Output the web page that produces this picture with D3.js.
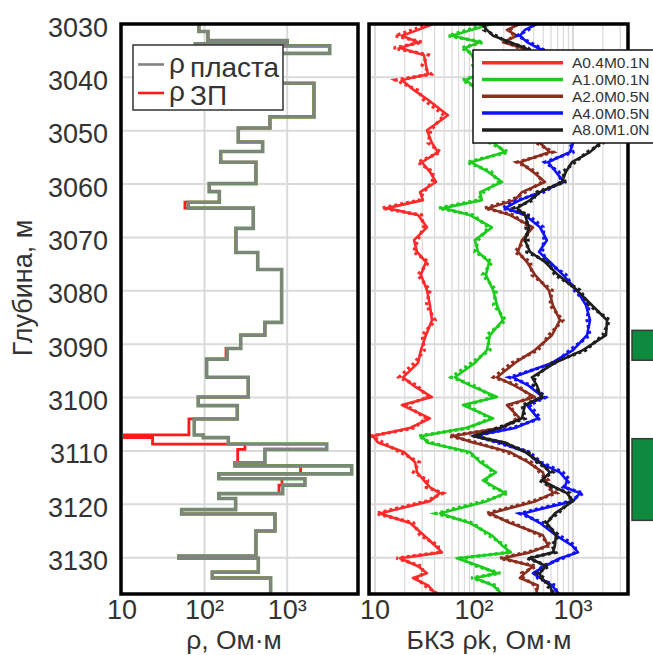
<!DOCTYPE html>
<html lang="ru">
<head>
<meta charset="utf-8">
<title>Разрез БКЗ</title>
<script src="https://d3js.org/d3.v7.min.js"></script>
<style>
  body { margin: 0; background: #fff; }
  svg { font-family: "Liberation Sans", Arial, sans-serif; }
</style>
</head>
<body>
<script>
// ---- left track: layer model (tops in m, resistivity in Ohm*m)
const layerTop = [3030.0, 3031.4, 3033.1, 3033.7, 3034.1, 3035.5, 3041.1, 3047.4, 3049.5, 3052.1,
  3053.9, 3055.9, 3059.9, 3061.4, 3063.4, 3064.5, 3068.3, 3072.8, 3076.0, 3085.9,
  3088.3, 3090.8, 3092.8, 3096.2, 3099.9, 3101.5, 3104.0, 3107.0, 3107.5, 3108.7,
  3109.7, 3112.2, 3112.8, 3114.3, 3115.2, 3116.4, 3118.0, 3118.9, 3121.0, 3121.8,
  3125.0, 3129.7, 3130.1, 3132.7, 3133.8, 3137.0];
const rhoPlast = [85.5, 110, 1002, 77.2, 3270, 712, 2110, 619, 256, 505,
  157, 419, 114, 151, 63.5, 389, 240, 440, 857, 538,
  274, 188, 106, 338, 83.9, 249, 75.0, 96.4, 194, 3010,
  538, 233, 6040, 149, 1641, 883, 149, 238, 52.8, 712,
  419, 49.0, 447, 124, 631, 292];
const rhoZP = [85.5, 110, 1002, 77.2, 3270, 712, 2110, 619, 256, 505,
  157, 419, 114, 151, 57.9, 389, 240, 440, 857, 538,
  274, 182, 106, 338, 83.9, 249, 64.7, 10.7, 23.5, 308,
  252, 233, 1456, 149, 865, 796, 149, 238, 52.8, 712,
  419, 49.0, 447, 124, 631, 292];

// ---- right track: apparent resistivity curves (solid = model, dotted = measured)
const depthK = [3030.0, 3031.1, 3032.2, 3033.4, 3034.5, 3035.8, 3037.7, 3039.4, 3040.5, 3042.4,
  3044.2, 3047.1, 3049.9, 3052.3, 3054.0, 3055.9, 3057.7, 3059.6, 3061.5, 3063.0,
  3064.5, 3065.8, 3068.1, 3070.5, 3072.7, 3074.6, 3077.0, 3079.9, 3082.7, 3085.5,
  3088.3, 3091.1, 3093.5, 3096.2, 3097.7, 3099.9, 3101.4, 3103.9, 3105.7, 3107.2,
  3108.4, 3110.2, 3112.1, 3114.0, 3115.5, 3116.8, 3117.9, 3119.4, 3121.7, 3123.5,
  3125.8, 3127.7, 3129.0, 3130.1, 3131.6, 3132.9, 3133.8, 3135.2, 3137.0];

const kA04 = [38.5, 27.2, 18.7, 27.2, 17.9, 31.2, 32.7, 34.3, 18.7, 24.8,
  34.3, 54.5, 33.5, 37.6, 43.2, 29.8, 35.9, 41.3, 28.5, 30.5,
  13.2, 27.2, 33.5, 24.8, 26.6, 32.7, 29.1, 33.5, 35.9, 37.6,
  32.7, 29.1, 27.2, 19.2, 24.2, 37.6, 18.7, 35.9, 22.6, 9.5,
  10.7, 19.6, 25.4, 26.6, 31.2, 35.9, 45.3, 35.9, 11.2, 22.6,
  31.2, 40.3, 47.5, 17.9, 27.2, 33.5, 24.2, 34.3, 42.2];
const kA04m = [35, 24, 16, 30, 15.5, 34.5, 30, 37, 16.2, 27,
  31, 50, 36.5, 34.5, 46, 27, 38.5, 38, 31, 28,
  11.8, 29.5, 31, 27, 24.5, 35, 27, 36, 33, 40.5,
  30, 31.5, 25, 17.5, 26.5, 34.5, 20.5, 33, 24.5, 9.2,
  12, 17.8, 28, 24.5, 34, 33, 48.5, 33, 10.3, 24.5,
  28.5, 43.5, 44, 16.5, 29.5, 31, 26.5, 31.5, 45];

const kA10 = [152, 95.2, 59.9, 115, 80.9, 95.2, 105, 110, 82.8, 110,
  152, 248, 152, 159, 206, 93.0, 139, 192, 115, 120,
  48.6, 90.9, 152, 102, 110, 142, 132, 156, 171, 196,
  145, 135, 102, 64.2, 90.9, 171, 77.3, 156, 82.8, 29.8,
  33.5, 90.9, 115, 167, 123, 163, 206, 135, 45.3, 90.9,
  152, 192, 236, 67.2, 115, 171, 102, 156, 196];
const kA10m = [140, 86, 55, 124, 74, 103, 97, 119, 76, 119,
  140, 230, 165, 146, 222, 85, 150, 177, 125, 110,
  44, 98, 140, 110, 102, 153, 122, 168, 158, 210,
  134, 145, 94, 59, 98, 158, 84, 145, 89, 27.5,
  36, 84, 124, 154, 133, 150, 222, 125, 41.5, 98,
  140, 207, 218, 73, 106, 184, 94, 168, 182];

const kA20 = [291, 215, 272, 196, 305, 351, 368, 291, 206, 291,
  413, 657, 413, 464, 585, 291, 394, 521, 305, 259,
  139, 231, 394, 305, 278, 343, 413, 571, 627, 738,
  613, 413, 259, 171, 254, 413, 215, 291, 183, 61.3,
  97.5, 231, 351, 497, 521, 585, 627, 422, 145, 231,
  497, 558, 368, 196, 394, 327, 291, 443, 422];
const kA20m = [268, 232, 252, 212, 285, 380, 340, 315, 190, 315,
  382, 610, 446, 430, 630, 272, 425, 490, 330, 240,
  128, 250, 365, 330, 258, 372, 385, 615, 585, 790,
  570, 445, 240, 158, 275, 385, 232, 270, 198, 56,
  106, 212, 380, 460, 565, 545, 680, 392, 134, 250,
  460, 600, 340, 182, 425, 303, 315, 412, 455];

const kA40 = [432, 327, 291, 343, 443, 657, 738, 585, 464, 657,
  930, 1485, 1048, 1000, 930, 558, 672, 809, 464, 291,
  206, 327, 464, 545, 453, 585, 791, 1097, 1353, 1485,
  1385, 1000, 613, 248, 351, 497, 343, 443, 259, 97.5,
  183, 335, 443, 738, 868, 828, 1177, 1000, 312, 464,
  672, 975, 1123, 738, 521, 394, 464, 613, 738];
const kA40m = [405, 352, 275, 365, 470, 615, 790, 545, 495, 615,
  990, 1390, 1120, 940, 1000, 520, 720, 760, 500, 275,
  192, 350, 500, 510, 490, 545, 850, 1030, 1450, 1390,
  1480, 930, 660, 228, 380, 530, 365, 470, 240, 104,
  170, 360, 475, 790, 930, 800, 1270, 930, 290, 500,
  720, 1050, 1060, 790, 490, 425, 440, 660, 690];

const kA80 = [120, 135, 156, 231, 327, 443, 558, 672, 738, 828,
  975, 1556, 2056, 1874, 1485, 975, 848, 773, 464, 368,
  272, 327, 359, 327, 368, 521, 704, 1097, 1556, 2205,
  2154, 1262, 657, 385, 432, 475, 327, 305, 183, 97.5,
  206, 327, 464, 585, 486, 657, 868, 1000, 657, 545,
  672, 657, 627, 368, 533, 464, 475, 585, 627];
const kA80m = [130, 126, 168, 215, 352, 412, 600, 625, 800, 770,
  1050, 1450, 2200, 2010, 1390, 1050, 790, 830, 432, 395,
  252, 352, 335, 352, 342, 560, 655, 1180, 1450, 2350,
  2000, 1350, 610, 412, 402, 510, 305, 330, 170, 104,
  192, 352, 432, 625, 460, 610, 930, 940, 705, 510,
  720, 612, 670, 345, 570, 432, 510, 545, 670];

const probeNames = ["A0.4M0.1N", "A1.0M0.1N", "A2.0M0.5N", "A4.0M0.5N", "A8.0M1.0N"];
const probeColors = ["#ff2a2a", "#1ccc1c", "#8b2e1f", "#1010ff", "#1e1e1e"];
const probeModel = [kA04, kA10, kA20, kA40, kA80];
const probeMeas = [kA04m, kA10m, kA20m, kA40m, kA80m];

// perforated intervals (top, bottom)
const intervalTop = [3087.4, 3107.7];
const intervalBot = [3093.0, 3123.0];

const depthTicks = [3030, 3040, 3050, 3060, 3070, 3080, 3090, 3100, 3110, 3120, 3130];
const rhoTicks = [10, 100, 1000];
const rhoTickText = ["10", "10²", "10³"];

// ---- layout
const W = 653, H = 655;
const yTop = 24, yBot = 594;
const L = {x0: 121, x1: 358}, R = {x0: 369, x1: 628};

const svg = d3.select("body").append("svg")
  .attr("width", W).attr("height", H);

const y = d3.scaleLinear().domain([3030, 3136.8]).range([yTop, yBot]);
const xL = d3.scaleLog().domain([9.75, 7200]).range([L.x0, L.x1]);
const xR = d3.scaleLog().domain([8.7, 3593]).range([R.x0, R.x1]);

const defs = svg.append("defs");
[["clipL", L], ["clipR", R]].forEach(([id, p]) => {
  defs.append("clipPath").attr("id", id).append("rect")
    .attr("x", p.x0).attr("y", yTop).attr("width", p.x1 - p.x0).attr("height", yBot - yTop);
});

// ---- grids
function hGrid(p) {
  svg.append("g").selectAll("line").data(depthTicks.slice(1)).join("line")
    .attr("x1", p.x0).attr("x2", p.x1)
    .attr("y1", d => y(d)).attr("y2", d => y(d))
    .attr("stroke", "#dadada").attr("stroke-width", 2);
}
hGrid(L); hGrid(R);

svg.append("g").selectAll("line").data([100, 1000]).join("line")
  .attr("x1", d => xL(d)).attr("x2", d => xL(d))
  .attr("y1", yTop).attr("y2", yBot)
  .attr("stroke", "#dadada").attr("stroke-width", 2);

const minorR = [];
[1, 10, 100, 1000].forEach(dec => {
  for (let m = 1; m <= 9; m++) {
    const v = m * dec;
    if (v > xR.domain()[0] && v < xR.domain()[1]) minorR.push(v);
  }
});
svg.append("g").selectAll("line").data(minorR).join("line")
  .attr("x1", d => xR(d)).attr("x2", d => xR(d))
  .attr("y1", yTop).attr("y2", yBot)
  .attr("stroke", "#dadada")
  .attr("stroke-width", d => rhoTicks.includes(d) ? 2 : 1.2);

// ---- left track curves
function stepPoints(vals) {
  const pts = [];
  vals.forEach((v, i) => {
    const b = i + 1 < layerTop.length ? layerTop[i + 1] : 3145;
    pts.push([v, layerTop[i]], [v, b]);
  });
  return pts;
}
const lineL = d3.line().x(d => xL(d[0])).y(d => y(d[1]));
const gL = svg.append("g").attr("clip-path", "url(#clipL)").attr("fill", "none");
gL.append("path").attr("d", lineL(stepPoints(rhoZP)))
  .attr("stroke", "#ff1a1a").attr("stroke-width", 2.8);
gL.append("path").attr("d", lineL(stepPoints(rhoPlast)))
  .attr("stroke", "#5f9a50").attr("stroke-width", 3.6);
gL.append("path").attr("d", lineL(stepPoints(rhoPlast)))
  .attr("stroke", "#828282").attr("stroke-width", 2.5);

// ---- right track curves
const lineR = d3.line().x(d => xR(d[0])).y(d => y(d[1]));
const gR = svg.append("g").attr("clip-path", "url(#clipR)").attr("fill", "none");
probeNames.forEach((n, i) => {
  gR.append("path").attr("d", lineR(probeModel[i].map((v, j) => [v, depthK[j]])))
    .attr("stroke", probeColors[i]).attr("stroke-width", 2.6)
    .attr("stroke-linejoin", "round");
  gR.append("path").attr("d", lineR(probeMeas[i].map((v, j) => [v, depthK[j]])))
    .attr("stroke", probeColors[i]).attr("stroke-width", 3.4)
    .attr("stroke-dasharray", "3,3");
});

// ---- frames
[L, R].forEach(p => {
  svg.append("rect").attr("x", p.x0).attr("y", yTop)
    .attr("width", p.x1 - p.x0).attr("height", yBot - yTop)
    .attr("fill", "none").attr("stroke", "#000").attr("stroke-width", 3.5);
});

// ---- intervals
svg.append("g").selectAll("rect").data(intervalTop).join("rect")
  .attr("x", 632).attr("width", 40)
  .attr("y", d => y(d)).attr("height", (d, i) => y(intervalBot[i]) - y(d))
  .attr("fill", "#0d8a3e").attr("stroke", "#3a3a3a").attr("stroke-width", 1.5);

// ---- axes text
const txt = "#333";
svg.append("g").selectAll("text").data(depthTicks).join("text")
  .attr("x", 108).attr("y", d => y(d) + 12.5)
  .attr("text-anchor", "end").attr("font-size", 27).attr("fill", txt)
  .text(d => d);

function rhoLabels(scale) {
  svg.append("g").selectAll("text").data(rhoTicks).join("text")
    .attr("x", d => scale(d)).attr("y", 619)
    .attr("text-anchor", "middle").attr("font-size", 27).attr("fill", txt)
    .text((d, i) => rhoTickText[i]);
}
rhoLabels(xL);
rhoLabels(xR);

svg.append("text").attr("x", 234).attr("y", 649).attr("text-anchor", "middle")
  .attr("font-size", 26.5).attr("fill", txt).text("ρ, Ом·м");
svg.append("text").attr("x", 489).attr("y", 649).attr("text-anchor", "middle")
  .attr("font-size", 26.5).attr("fill", txt).text("БКЗ ρk, Ом·м");
svg.append("text").attr("transform", "translate(32,288) rotate(-90)")
  .attr("text-anchor", "middle").attr("font-size", 27).attr("fill", txt)
  .text("Глубина, м");

// ---- legend, left track
const lg = svg.append("g");
lg.append("rect").attr("x", 133).attr("y", 45).attr("width", 150).attr("height", 65)
  .attr("fill", "#fff").attr("stroke", "#333").attr("stroke-width", 1.5);
[["пласта", "#828282", 64.5], ["ЗП", "#ff1a1a", 93]].forEach(([lab, c, ly]) => {
  lg.append("line").attr("x1", 138).attr("x2", 164).attr("y1", ly).attr("y2", ly)
    .attr("stroke", c).attr("stroke-width", 2.6);
  lg.append("text").attr("x", 169).attr("y", ly + 8).attr("font-size", 28)
    .attr("fill", txt).text("ρ");
  lg.append("text").attr("x", 190).attr("y", ly + 12).attr("font-size", 28)
    .attr("fill", txt).text(lab);
});

// ---- legend, right track
const lr = svg.append("g");
lr.append("rect").attr("x", 473).attr("y", 50).attr("width", 200).attr("height", 93)
  .attr("fill", "#fff").attr("stroke", "#111").attr("stroke-width", 1.5);
probeNames.forEach((n, i) => {
  const ly = 62.7 + i * 16.8;
  lr.append("line").attr("x1", 482).attr("x2", 563).attr("y1", ly).attr("y2", ly)
    .attr("stroke", probeColors[i]).attr("stroke-width", 3.5);
  lr.append("text").attr("x", 572).attr("y", ly + 5.5).attr("font-size", 15.5)
    .attr("fill", txt).text(n);
});
</script>
</body>
</html>
